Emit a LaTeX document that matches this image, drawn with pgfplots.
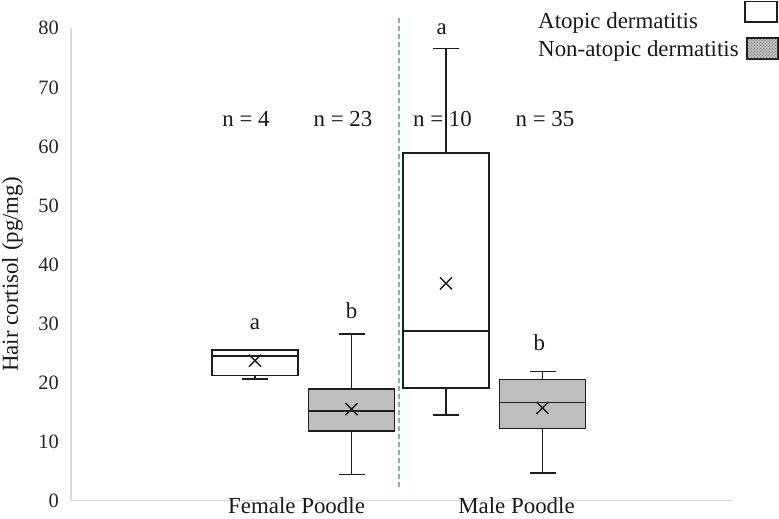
\documentclass[border=0pt]{standalone}
\usepackage{fontspec}
\setmainfont{Liberation Serif}
\usepackage{pgfplots}
\pgfplotsset{compat=1.18}
\usepgfplotslibrary{statistics}
\usetikzlibrary{patterns}

\definecolor{boxline}{RGB}{30,30,30}
\definecolor{boxgray}{RGB}{190,190,190}
\definecolor{axisgray}{RGB}{217,217,217}
\definecolor{divider}{RGB}{120,175,222}

\tikzset{
  txt/.style={font=\fontsize{23}{27}\selectfont, text=black!90, inner sep=0pt},
  atopic/.style={draw=boxline, fill=white, line width=1.4bp},
  nonatopic/.style={draw=boxline, fill=boxgray, line width=1.4bp,
    postaction={pattern=crosshatch dots, pattern color=black!60}},
}

\begin{document}
\begin{tikzpicture}
\useasboundingbox (0,0) rectangle (779bp,519bp);
\begin{axis}[
    at={(71bp,18.4bp)}, anchor=south west,
    scale only axis,
    width=661bp, height=472.3bp,
    xmin=71, xmax=732,
    ymin=0, ymax=80,
    axis x line*=bottom, axis y line*=left,
    every outer x axis line/.append style={-},
    every outer y axis line/.append style={-},
    axis line style={axisgray, line width=1.3bp},
    xtick=\empty,
    ytick={0,10,...,80},
    major tick length=0pt,
    /pgf/number format/assume math mode=true,
    yticklabel style={font=\fontsize{20.5}{24}\selectfont, text=black!85,
      inner sep=0pt, anchor=east, xshift=-12bp},
    clip=false,
    boxplot/draw direction=y,
    boxplot/box extend=86,
    boxplot/whisker extend=26,
    boxplot/every median/.style={/tikz/line width=1.4bp},
    boxplot/every whisker/.style={/tikz/line width=1.4bp},
    boxplot/every average/.style={/tikz/mark=x, /tikz/mark size=8.5bp,
      /tikz/line width=1.3bp},
]
% Female Poodle, atopic (n = 4)
\addplot+[atopic, mark=none, boxplot prepared={
    draw position=255,
    lower whisker=20.6, lower quartile=21.2, median=24.5,
    upper quartile=25.5, upper whisker=25.5, average=23.7}]
  coordinates {};
% Female Poodle, non-atopic (n = 23)
\addplot+[nonatopic, mark=none, boxplot prepared={
    draw position=351.5,
    lower whisker=4.45, lower quartile=11.8, median=15.2,
    upper quartile=18.9, upper whisker=28.2, average=15.5}]
  coordinates {};
% Male Poodle, atopic (n = 10)
\addplot+[atopic, mark=none, boxplot prepared={
    draw position=446,
    lower whisker=14.5, lower quartile=19.1, median=28.7,
    upper quartile=58.9, upper whisker=76.6, average=36.8}]
  coordinates {};
% Male Poodle, non-atopic (n = 35)
\addplot+[nonatopic, mark=none, boxplot prepared={
    draw position=542.5,
    lower whisker=4.7, lower quartile=12.2, median=16.6,
    upper quartile=20.5, upper whisker=21.9, average=15.7}]
  coordinates {};

% divider between the sexes
\draw[divider, line width=1.3bp, dash pattern=on 5bp off 3bp]
  (axis cs:399,2.35) -- (axis cs:399,81.9);

% y label
\node[txt, rotate=90] at (axis cs:12.5,38.3) {Hair cortisol (pg/mg)};

% category labels
\node[txt, anchor=base] at (axis cs:296.5,-2.2) {Female Poodle};
\node[txt, anchor=base] at (axis cs:516.5,-2.2) {Male Poodle};

% sample sizes
\node[txt, anchor=base] at (axis cs:246,63.4) {n = 4};
\node[txt, anchor=base] at (axis cs:343,63.4) {n = 23};
\node[txt, anchor=base] at (axis cs:442.5,63.4) {n = 10};
\node[txt, anchor=base] at (axis cs:545,63.4) {n = 35};

% significance letters
\node[txt, anchor=base] at (axis cs:255,28.9) {a};
\node[txt, anchor=base] at (axis cs:351.5,30.9) {b};
\node[txt, anchor=base] at (axis cs:441.7,78.9) {a};
\node[txt, anchor=base] at (axis cs:539.3,25.5) {b};

% legend
\node[txt, anchor=base west] at (axis cs:538,80.0) {Atopic dermatitis};
\node[txt, anchor=base west] at (axis cs:538,75.2) {Non-atopic dermatitis};
\draw[atopic] (axis cs:745,81.1) rectangle (axis cs:777,84.5);
\draw[nonatopic] (axis cs:747,74.8) rectangle (axis cs:778,78.35);
\end{axis}
\end{tikzpicture}
\end{document}
